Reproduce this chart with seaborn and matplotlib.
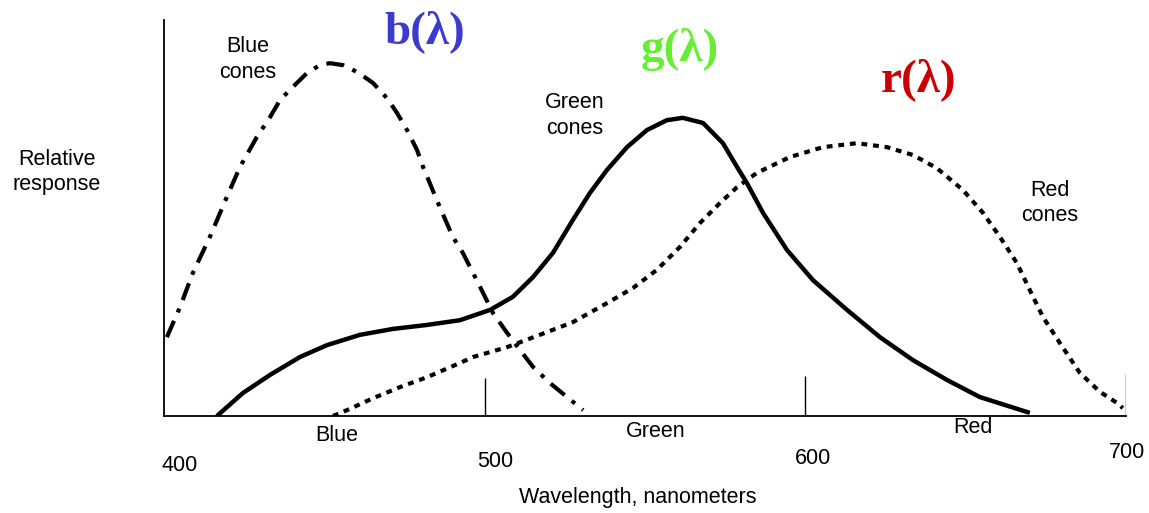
import matplotlib
matplotlib.use("Agg")
import matplotlib.pyplot as plt
import seaborn as sns
import pandas as pd

# Cone sensitivity curves (wavelength in nm, relative response)
blue_wl = [400.9, 405.0, 409.0, 414.3, 419.6, 423.7, 429.0, 433.1, 436.2, 440.2, 444.6,
           448.6, 451.8, 455.8, 460.2, 465.2, 469.5, 472.7, 475.8, 478.9, 480.8, 482.9,
           485.1, 488.2, 490.1, 493.2, 496.4, 499.5, 502.6, 507.0, 511.0, 515.1, 520.4,
           525.7, 530.7]
blue_resp = [0.199, 0.275, 0.361, 0.452, 0.553, 0.629, 0.705, 0.755, 0.798, 0.831, 0.866,
             0.886, 0.891, 0.886, 0.869, 0.841, 0.803, 0.765, 0.722, 0.672, 0.629, 0.588,
             0.545, 0.487, 0.452, 0.412, 0.361, 0.311, 0.260, 0.210, 0.167, 0.124, 0.083,
             0.048, 0.015]

green_wl = [416.5, 424.6, 433.1, 442.4, 450.8, 461.1, 471.4, 482.0, 492.3, 501.7, 508.8,
            515.1, 521.3, 527.5, 532.8, 538.1, 544.4, 550.6, 556.8, 561.8, 568.1, 574.3,
            578.7, 581.8, 586.8, 594.3, 602.4, 613.0, 623.3, 633.6, 644.2, 654.4, 670.0]
green_resp = [0.0, 0.058, 0.104, 0.149, 0.179, 0.205, 0.220, 0.230, 0.242, 0.268, 0.301,
              0.351, 0.412, 0.495, 0.563, 0.621, 0.679, 0.722, 0.747, 0.753, 0.740, 0.689,
              0.629, 0.588, 0.513, 0.419, 0.343, 0.268, 0.199, 0.141, 0.091, 0.048, 0.008]

red_wl = [452.7, 457.1, 465.2, 473.6, 482.0, 492.3, 496.4, 507.0, 517.2, 527.5, 538.1,
          546.2, 553.7, 560.9, 567.1, 573.4, 578.7, 584.9, 595.2, 605.5, 616.1, 625.4,
          633.6, 641.0, 649.1, 655.4, 660.7, 666.0, 670.0, 674.1, 679.4, 685.6, 691.9,
          697.2, 699.0]
red_resp = [0.0, 0.015, 0.045, 0.073, 0.098, 0.134, 0.149, 0.174, 0.205, 0.237, 0.285,
            0.323, 0.369, 0.427, 0.487, 0.538, 0.578, 0.614, 0.654, 0.679, 0.689, 0.679,
            0.659, 0.626, 0.571, 0.513, 0.452, 0.386, 0.318, 0.250, 0.184, 0.109, 0.061,
            0.033, 0.020]

tick_wl = [500, 600, 700]
number_labels = ["400", "500", "600", "700"]
band_labels = ["Blue", "Green", "Red"]

sns.set_theme(style="white")
plt.rcParams["font.family"] = ["Liberation Sans", "DejaVu Sans"]
plt.rcParams["text.color"] = "black"

fig = plt.figure(figsize=(11.49, 5.13), dpi=100)
ax = fig.add_axes([0.1427, 0.189, 0.8373, 0.772])

blue_df = pd.DataFrame({"wl": blue_wl, "resp": blue_resp})
green_df = pd.DataFrame({"wl": green_wl, "resp": green_resp})
red_df = pd.DataFrame({"wl": red_wl, "resp": red_resp})

sns.lineplot(data=blue_df, x="wl", y="resp", ax=ax, color="black", lw=3,
             linestyle=(0, (4.3, 2.2, 1.0, 2.2)), sort=False, dash_capstyle="butt",
             solid_joinstyle="round")
sns.lineplot(data=green_df, x="wl", y="resp", ax=ax, color="black", lw=3.2, sort=False,
             solid_joinstyle="round", solid_capstyle="butt")
sns.lineplot(data=red_df, x="wl", y="resp", ax=ax, color="black", lw=3,
             linestyle=(0, (1.4, 1.4)), sort=False)

ax.vlines(tick_wl, 0, [0.096, 0.1, 0.105], color="black", lw=1.0)

ax.set_xlim(400, 700)
ax.set_ylim(0, 1)
ax.set_xticks([])
ax.set_yticks([])
ax.set_xlabel("")
ax.set_ylabel("")
for side in ["top", "right"]:
    ax.spines[side].set_visible(False)
for side in ["left", "bottom"]:
    ax.spines[side].set_color("black")
    ax.spines[side].set_linewidth(1.3)

fs = 15.5
num_pos = [(405, -0.126), (503.2, -0.116), (602.4, -0.106), (700.3, -0.093)]
for lab, (x, y) in zip(number_labels, num_pos):
    ax.text(x, y, lab, ha="center", va="center", fontsize=fs, clip_on=False)

band_pos = [(453.9, -0.048), (553.4, -0.040), (652.3, -0.03)]
for lab, (x, y) in zip(band_labels, band_pos):
    ax.text(x, y, lab, ha="center", va="center", fontsize=fs, clip_on=False)

ax.text(547.8, -0.205, "Wavelength, nanometers", ha="center", va="center",
        fontsize=fs, clip_on=False)
ax.text(366.6, 0.616, "Relative\nresponse", ha="center", va="center",
        fontsize=fs, linespacing=1.3, clip_on=False)

ax.text(426.2, 0.9, "Blue\ncones", ha="center", va="center", fontsize=fs, linespacing=1.3)
ax.text(528.2, 0.758, "Green\ncones", ha="center", va="center", fontsize=fs, linespacing=1.3)
ax.text(676.3, 0.538, "Red\ncones", ha="center", va="center", fontsize=fs, linespacing=1.3)

serif = ["Liberation Serif", "DejaVu Serif"]
ax.text(481.4, 0.97, "b(λ)", ha="center", va="center", fontsize=34, fontweight="bold",
        color="#3b3bd0", family=serif, clip_on=False)
ax.text(560.9, 0.925, "g(λ)", ha="center", va="center", fontsize=34, fontweight="bold",
        color="#66ee33", family=serif, clip_on=False)
ax.text(635.4, 0.85, "r(λ)", ha="center", va="center", fontsize=34, fontweight="bold",
        color="#cc0000", family=serif, clip_on=False)

fig.savefig("out.png", dpi=100, facecolor="white")
